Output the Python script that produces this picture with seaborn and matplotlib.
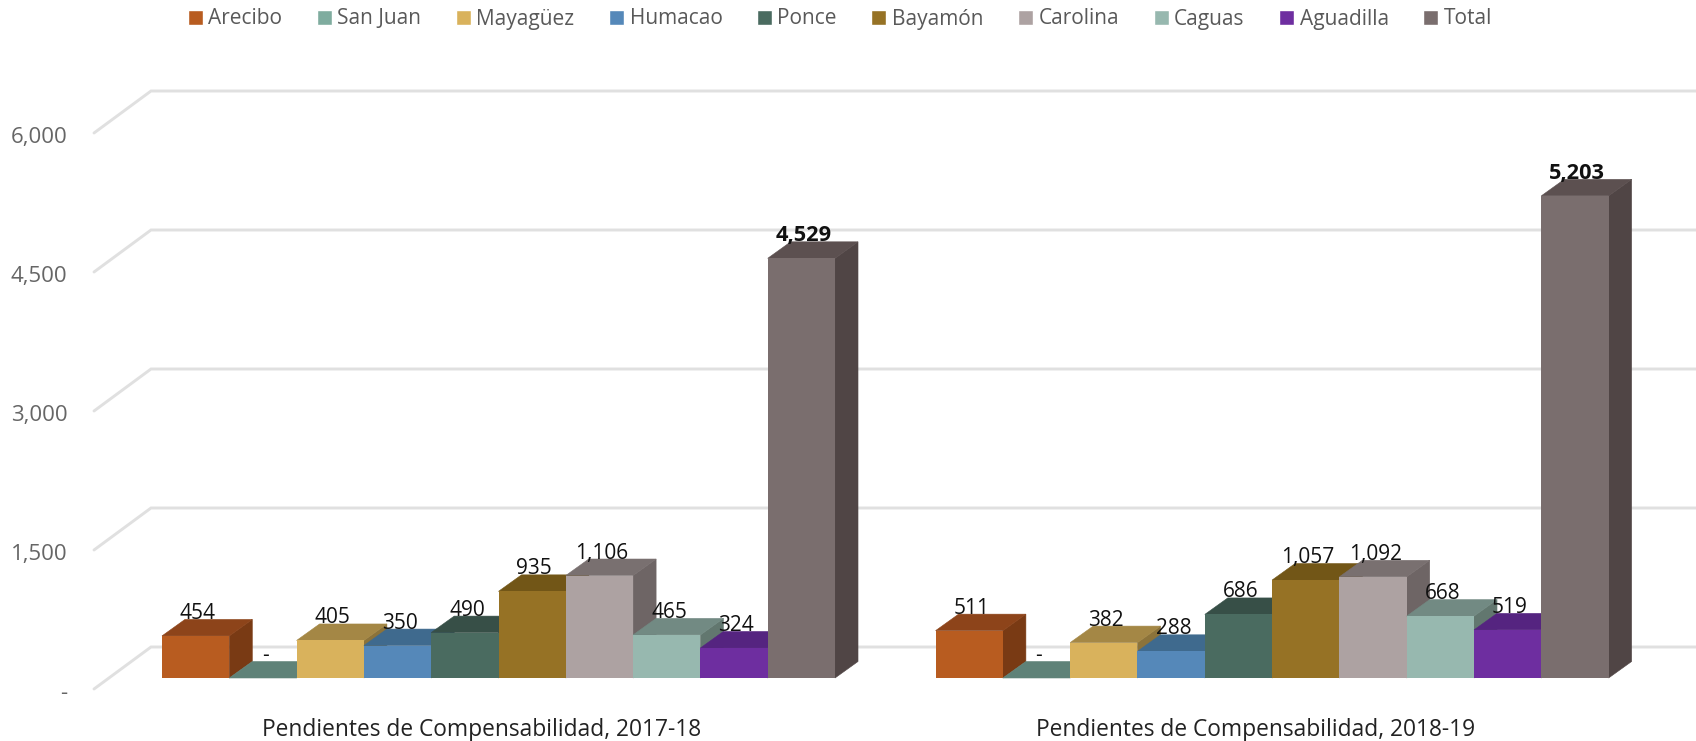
import pandas as pd
import seaborn as sns
from matplotlib import pyplot as plt
from matplotlib.patches import Polygon
from matplotlib.transforms import Affine2D

regions = ["Arecibo", "San Juan", "Mayagüez", "Humacao", "Ponce", "Bayamón", "Carolina", "Caguas", "Aguadilla", "Total"]
periods = ["Pendientes de Compensabilidad, 2017-18", "Pendientes de Compensabilidad, 2018-19"]
values_2017 = [454, 0, 405, 350, 490, 935, 1106, 465, 324, 4529]
values_2018 = [511, 0, 382, 288, 686, 1057, 1092, 668, 519, 5203]
y_ticks = [0, 1500, 3000, 4500, 6000]
y_tick_labels = ["-", "1,500", "3,000", "4,500", "6,000"]

front_colors = ["#B85C20", "#7FAC9F", "#D9B25C", "#5588B9", "#4A6B60", "#967225", "#ADA2A2", "#97B8AF", "#6E2EA0", "#7A6E6E"]
top_colors = ["#8D441A", "#5F8278", "#A48745", "#3F6A8E", "#374F47", "#725617", "#797070", "#728A83", "#552480", "#5C5050"]
side_colors = ["#793A14", "#50706A", "#8C733A", "#35597A", "#2F443D", "#624A14", "#6E6565", "#62776F", "#48206E", "#504545"]

# pixel layout of the picture
W, H = 1696, 741
PX_X = 1 / 773.6          # data x per pixel
PX_Y = 1500 / 139         # data y per pixel
X0_PX, Y0_PX = 498.5, 678
AX_LEFT, AX_TOP, AX_BOTTOM = 75, 40, 700
BAR_DX, BAR_DY = 23, 16.5  # depth of the bars
WALL_DX, WALL_DY = 57, 42  # depth of the left wall
WALL_BACK = 31             # back wall above the bar baseline

df = pd.DataFrame({
    "period": [periods[0]] * len(regions) + [periods[1]] * len(regions),
    "region": regions * 2,
    "value": values_2017 + values_2018,
})

sns.set_style("white")
plt.rcParams["font.family"] = ["Open Sans", "DejaVu Sans"]

fig = plt.figure(figsize=(W / 100, H / 100), dpi=100)
ax = fig.add_axes([AX_LEFT / W, 1 - AX_BOTTOM / H, (W - AX_LEFT) / W, (AX_BOTTOM - AX_TOP) / H])
ax.patch.set_alpha(0)

sns.barplot(data=df, x="period", y="value", hue="region", hue_order=regions, order=periods,
            palette=front_colors, saturation=1, width=0.87, gap=0, errorbar=None, ax=ax, zorder=3)

ax.set_xlim((AX_LEFT - X0_PX) * PX_X, (W - X0_PX) * PX_X)
ax.set_ylim((Y0_PX - AX_BOTTOM) * PX_Y, (Y0_PX - AX_TOP) * PX_Y)
sns.despine(ax=ax, left=True, bottom=True, top=True, right=True)
ax.set_xlabel("")
ax.set_ylabel("")

# back wall and left wall lines
x_back = (AX_LEFT + 76 - X0_PX) * PX_X
x_front = x_back - WALL_DX * PX_X
for v in y_ticks:
    y_back = v + WALL_BACK * PX_Y
    ax.plot([x_front, x_back, ax.get_xlim()[1]], [y_back - WALL_DY * PX_Y, y_back, y_back],
            color="#E0E0E0", lw=2.1, zorder=1, clip_on=False, solid_joinstyle="miter")

# bars in 3D, left to right so each one covers its neighbour
bars = []
for i, container in enumerate(ax.containers):
    for j, rect in enumerate(container):
        bars.append((rect.get_x(), i, j, rect))
bars.sort(key=lambda b: b[0])

dx = BAR_DX * PX_X
dy = BAR_DY * PX_Y
for k, (x, i, j, rect) in enumerate(bars):
    w = rect.get_width()
    h = rect.get_height()
    z = 3 + k
    rect.set_zorder(z + 0.5)
    rect.set_edgecolor("none")
    side = [(x + w, 0), (x + w + dx, dy), (x + w + dx, h + dy), (x + w, h)]
    top = [(x, h), (x + dx, h + dy), (x + w + dx, h + dy), (x + w, h)]
    if h > 0:
        ax.add_patch(Polygon(side, closed=True, fc=side_colors[i], ec=side_colors[i], lw=0.4, zorder=z))
    ax.add_patch(Polygon(top, closed=True, fc=top_colors[i], ec=top_colors[i], lw=0.4, zorder=z + 0.2))
    label = f"{h:,.0f}" if h > 0 else "-"
    is_total = regions[i] == "Total"
    ax.text(x + w / 2 + 2.2 * PX_X, h + 22.5 * PX_Y, label, ha="center", va="center",
            fontsize=15.7 if is_total else 15, color="#111111", zorder=50,
            fontweight="bold" if is_total else "normal")

# axis labels
ax.set_yticks(y_ticks, y_tick_labels)
ax.tick_params(axis="y", length=0, pad=5.5, labelsize=16, labelcolor="#666666")
ax.tick_params(axis="x", length=0, pad=13, labelsize=16.4, labelcolor="#222222")

# tick labels sit on the front of the wall, not on the bar baseline
for tick in ax.yaxis.get_major_ticks():
    tick.label1.set_transform(tick.label1.get_transform() + Affine2D().translate(0, -13))
for tick in ax.xaxis.get_major_ticks():
    tick.label1.set_transform(tick.label1.get_transform() + Affine2D().translate(-17, 0))

handles, labels = ax.get_legend_handles_labels()
ax.legend(handles, labels, ncol=10, loc="center", bbox_to_anchor=(840 / W, 1 - 19 / H),
          bbox_transform=fig.transFigure, frameon=False, fontsize=15, labelcolor="#595959",
          handlelength=0.72, handleheight=0.72, handletextpad=0.26, columnspacing=1.66,
          borderpad=0, borderaxespad=0)

fig.savefig("out.png", dpi=100)
